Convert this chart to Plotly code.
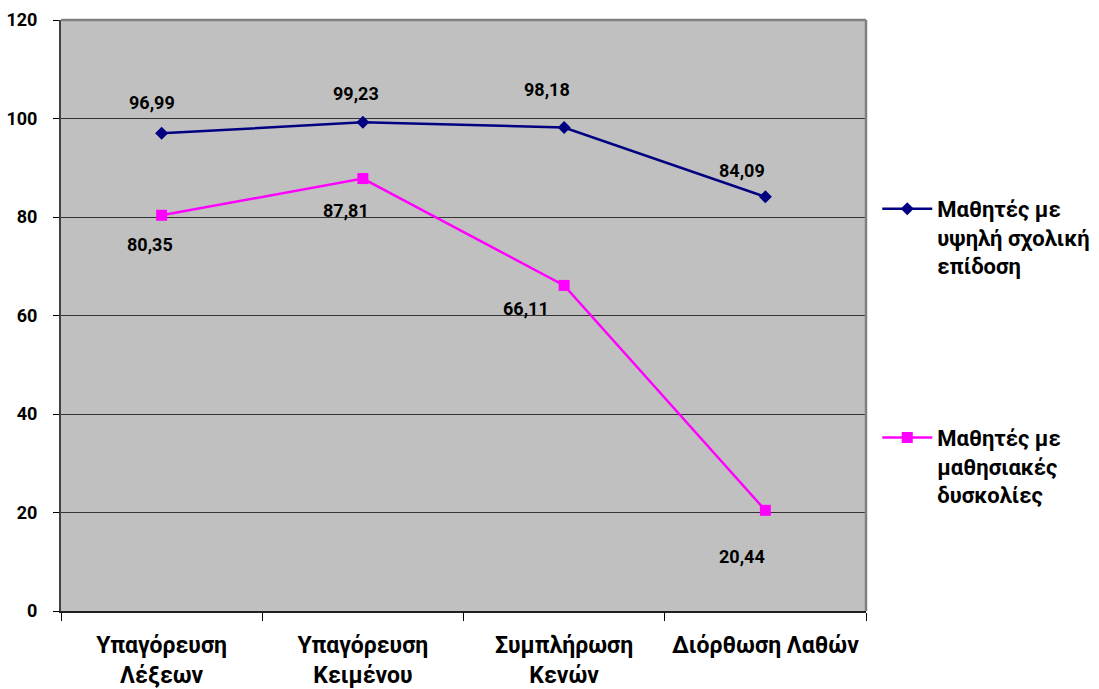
import plotly.graph_objects as go

categories = ["Υπαγόρευση<br>Λέξεων", "Υπαγόρευση<br>Κειμένου", "Συμπλήρωση<br>Κενών", "Διόρθωση Λαθών"]
high_name = "Μαθητές με<br>υψηλή σχολική<br>επίδοση"
high_values = [96.99, 99.23, 98.18, 84.09]
ld_name = "Μαθητές με<br>μαθησιακές<br>δυσκολίες"
ld_values = [80.35, 87.81, 66.11, 20.44]
y_ticks = [0, 20, 40, 60, 80, 100, 120]

NAVY = "#000080"
MAGENTA = "#FF00FF"
FONT = "Roboto"

fig = go.Figure()
fig.add_trace(go.Scatter(
    x=categories, y=high_values, name=high_name, mode="lines+markers",
    line=dict(color=NAVY, width=2.5),
    marker=dict(symbol="diamond", size=10, color=NAVY),
    legendgroup="high",
))
fig.add_trace(go.Scatter(
    x=categories, y=ld_values, name=ld_name, mode="lines+markers",
    line=dict(color=MAGENTA, width=2.5),
    marker=dict(symbol="square", size=11, color=MAGENTA),
    legendgroup="ld",
))


def fmt(v):
    return f"<b>{v:.2f}</b>".replace(".", ",")


# value labels, offset in pixels from each point
high_offsets = [(-10, 31), (-7, 29), (-17, 38), (-23, 26)]
ld_offsets = [(-12, -29), (-17, -32), (-38, -23), (-23, -46)]
label_font = dict(family=FONT, size=18, color="black")
for cat, v, (dx, dy) in zip(categories, high_values, high_offsets):
    fig.add_annotation(x=cat, y=v, text=fmt(v), showarrow=False,
                       xshift=dx, yshift=dy, font=label_font)
for cat, v, (dx, dy) in zip(categories, ld_values, ld_offsets):
    fig.add_annotation(x=cat, y=v, text=fmt(v), showarrow=False,
                       xshift=dx, yshift=dy, font=label_font)

# top and right frame of the plot area
fig.add_shape(type="line", xref="x domain", yref="y domain", x0=0, x1=1, y0=1, y1=1,
              line=dict(color="#808080", width=2.5))
fig.add_shape(type="line", xref="x domain", yref="y domain", x0=1, x1=1, y0=0, y1=1,
              line=dict(color="#808080", width=2.5))

fig.update_layout(
    width=1099, height=689,
    margin=dict(l=61, r=233, t=20, b=78, autoexpand=False),
    paper_bgcolor="white",
    plot_bgcolor="#C0C0C0",
    showlegend=True,
    legend=dict(
        x=1.014, xanchor="left",
        y=0.716, yanchor="top",
        font=dict(family=FONT, size=22, color="black", weight="bold"),
        tracegroupgap=140,
        traceorder="grouped",
        itemwidth=50,
        valign="top",
        bgcolor="rgba(0,0,0,0)",
    ),
    xaxis=dict(
        type="category",
        range=[-0.5, 3.5],
        tickson="boundaries",
        ticks="outside", ticklen=8, tickcolor="black", tickwidth=1,
        showline=True, linecolor="#202020", linewidth=2,
        showgrid=False,
        tickfont=dict(family=FONT, size=23, color="black", weight="bold"),
        ticklabelstandoff=12,
        automargin=False,
    ),
    yaxis=dict(
        range=[0, 120],
        tickvals=y_ticks,
        ticks="outside", ticklen=6, tickcolor="black", tickwidth=1,
        showline=True, linecolor="#404040", linewidth=2,
        showgrid=True, gridcolor="#333333", gridwidth=1,
        zeroline=False,
        tickfont=dict(family=FONT, size=18, color="black", weight="bold"),
        ticklabelstandoff=12,
        automargin=False,
    ),
)

fig.write_html("out.html")
